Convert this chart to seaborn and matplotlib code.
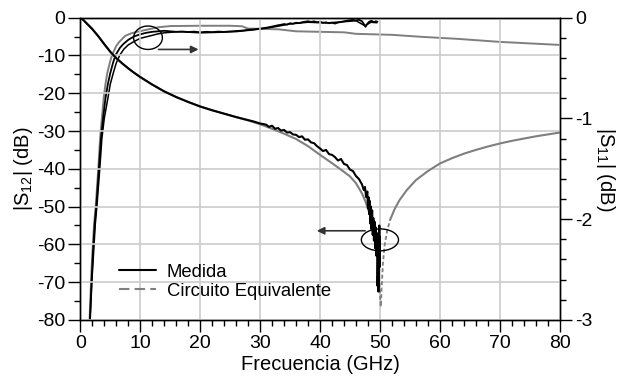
import matplotlib
matplotlib.use("Agg")
import matplotlib.pyplot as plt
import seaborn as sns
import pandas as pd
from matplotlib.lines import Line2D
from matplotlib.patches import Ellipse
from matplotlib.ticker import MultipleLocator

# ---------------- data ----------------
# |S12| measured (left axis, dB)
f_s12_meas = [0.0, 0.5, 1.0, 1.5, 2.0, 3.0, 4.0, 5.0, 6.0, 7.0, 8.0, 9.0, 10, 12, 14, 16, 18, 20,
              22, 24, 26, 28, 29, 30, 31, 31.5, 32, 32.5, 33, 33.5, 34, 34.5, 35, 35.5, 36, 36.5,
              37, 37.5, 38, 38.5, 39, 39.5, 40, 40.5, 41, 41.5, 42, 42.5, 43, 43.5, 44, 44.5, 45,
              45.5, 46, 46.5, 47, 47.3, 47.5, 47.7, 47.9, 48.0, 48.1, 48.2, 48.3, 48.4, 48.5, 48.6,
              48.7, 48.8, 48.9, 49.0, 49.1, 49.2, 49.3, 49.4, 49.5, 49.55, 49.6, 49.7, 49.75, 49.85,
              49.9, 49.95, 50.0]
s12_meas = [0.0, -0.6, -1.4, -2.2, -3.0, -4.9, -7.0, -9.0, -10.7, -12.1, -13.4, -14.6, -15.7, -17.7,
            -19.5, -21.0, -22.3, -23.5, -24.5, -25.4, -26.3, -27.1, -27.5, -28.0, -28.3, -28.9, -28.6,
            -29.4, -29.2, -29.9, -29.7, -30.4, -30.3, -30.9, -31.0, -31.6, -31.4, -32.3, -32.2, -33.0,
            -33.2, -34.0, -34.6, -35.3, -35.0, -36.1, -36.3, -36.9, -37.8, -37.4, -38.7, -39.0, -40.2,
            -40.6, -41.9, -42.7, -44.1, -45.6, -44.8, -47.5, -46.0, -50.5, -47.5, -52.0, -48.5, -54.5,
            -50.0, -56.0, -51.0, -57.5, -53.0, -59.0, -54.0, -61.0, -55.5, -63.0, -57.0, -62.0, -71.0,
            -62.0, -72.5, -60.0, -55.0, -66.0, -58.0]

# |S12| equivalent circuit (left axis, dB)
f_s12_model = [0, 0.5, 1, 1.5, 2, 3, 4, 5, 6, 7, 8, 9, 10, 12, 14, 16, 18, 20, 22, 24, 26, 28, 30,
               32, 34, 36, 38, 40, 42, 44, 45, 46, 47, 47.5, 48, 48.5, 49, 49.4, 49.7, 49.9, 50.05,
               50.15, 50.3, 50.5, 50.8, 51.2, 51.7, 52.5, 53.3, 54.5, 56, 58, 60, 62, 64, 66, 68, 70,
               72, 74, 76, 78, 80]
s12_model = [0, -0.6, -1.4, -2.2, -3.0, -4.9, -7.0, -9.0, -10.7, -12.1, -13.4, -14.6, -15.7, -17.7,
             -19.5, -21.0, -22.3, -23.5, -24.5, -25.4, -26.3, -27.2, -28.2, -29.4, -30.7, -32.1, -34.0,
             -36.3, -38.5, -40.8, -42.0, -43.8, -46.5, -48.3, -50.5, -53.0, -56.5, -60.5, -65.0, -70.0,
             -74.5, -76.5, -71.0, -65.0, -60.0, -56.5, -53.5, -50.5, -48.2, -45.6, -43.0, -40.6, -38.6,
             -37.2, -36.0, -35.0, -34.1, -33.3, -32.6, -32.0, -31.4, -30.9, -30.4]

# |S11| equivalent circuit (right axis, dB)
f_s11_model = [1.55, 1.8, 2.0, 2.3, 2.6, 3.0, 3.3, 3.6, 3.9, 4.2, 4.5, 5.0, 5.3, 6.0, 6.5, 7.5, 8.5,
               9.5, 11, 13, 15, 20, 25, 27, 28, 33, 36, 44, 46, 52, 57, 63, 70, 75, 80]
s11_model = [-3.0, -2.6, -2.35, -2.05, -1.85, -1.5, -1.2, -1.0, -0.8, -0.66, -0.55, -0.43, -0.37,
             -0.28, -0.24, -0.18, -0.155, -0.14, -0.12, -0.095, -0.083, -0.08, -0.08, -0.085, -0.108,
             -0.115, -0.135, -0.145, -0.16, -0.17, -0.19, -0.21, -0.24, -0.255, -0.27]

# |S11| measured, trace A (right axis, dB)
f_s11_meas_a = [1.6, 1.9, 2.1, 2.4, 2.7, 3.1, 3.45, 3.8, 4.2, 4.6, 5.0, 5.5, 5.9, 6.6, 7.2, 8.0, 9.0,
                10, 11, 12, 13, 14, 15, 16, 17, 18, 19, 20, 21, 22, 23, 24, 25, 26, 27, 28, 29, 30,
                31, 32, 33, 33.5, 34, 34.5, 35, 35.5, 36, 36.5, 37, 37.5, 38, 38.5, 39, 39.5, 40,
                40.5, 41, 41.5, 42, 42.5, 43, 43.5, 44, 44.5, 45, 45.5, 46, 46.5, 47, 47.4, 47.6,
                47.9, 48.2, 48.6, 49.0, 49.3, 49.6]
s11_meas_a = [-3.0, -2.6, -2.35, -2.05, -1.85, -1.5, -1.2, -1.0, -0.8, -0.66, -0.55, -0.44, -0.37,
              -0.3, -0.26, -0.22, -0.185, -0.165, -0.15, -0.14, -0.135, -0.13, -0.135, -0.14, -0.137,
              -0.142, -0.138, -0.145, -0.14, -0.143, -0.138, -0.141, -0.136, -0.132, -0.128, -0.12,
              -0.115, -0.108, -0.1, -0.088, -0.075, -0.07, -0.063, -0.068, -0.055, -0.06, -0.05,
              -0.054, -0.045, -0.04, -0.035, -0.042, -0.036, -0.045, -0.04, -0.05, -0.046, -0.055,
              -0.05, -0.058, -0.048, -0.042, -0.035, -0.03, -0.025, -0.022, -0.028, -0.02, -0.035,
              -0.07, -0.09, -0.06, -0.04, -0.03, -0.045, -0.035, -0.04]

# |S11| measured, trace B (right axis, dB)
f_s11_meas_b = [1.65, 1.95, 2.2, 2.5, 2.8, 3.25, 3.6, 4.0, 4.6, 5.0, 5.5, 6.0, 6.6, 7.3, 8.0, 9.0,
                10, 11, 12, 13, 14, 15, 16, 17, 20, 23, 26, 29, 32, 35, 38, 41, 44, 46, 47.5, 48.5,
                49.5]
s11_meas_b = [-3.0, -2.6, -2.35, -2.05, -1.85, -1.5, -1.2, -1.0, -0.8, -0.66, -0.55, -0.45, -0.37,
              -0.31, -0.27, -0.235, -0.205, -0.19, -0.175, -0.16, -0.15, -0.145, -0.14, -0.14,
              -0.15, -0.145, -0.138, -0.12, -0.095, -0.062, -0.045, -0.052, -0.04, -0.03, -0.08,
              -0.045, -0.05]

legend_labels = ["Medida", "Circuito Equivalente"]
x_label = "Frecuencia (GHz)"
y_left_label = r"$|$S$_{12}$$|$ (dB)"
y_right_label = r"$|$S$_{11}$$|$ (dB)"

# ---------------- styling ----------------
sns.set_theme(style="ticks")
plt.rcParams["font.family"] = ["Liberation Sans", "DejaVu Sans"]
plt.rcParams["mathtext.fontset"] = "custom"
plt.rcParams["mathtext.rm"] = "Liberation Sans"
plt.rcParams["mathtext.it"] = "Liberation Sans"
plt.rcParams["axes.unicode_minus"] = False
plt.rcParams["text.color"] = "black"
plt.rcParams["axes.labelcolor"] = "black"
plt.rcParams["xtick.color"] = "black"
plt.rcParams["ytick.color"] = "black"

BLACK = "#000000"
GRAY = "#7f7f7f"
GRID = "#cccccc"

fig = plt.figure(figsize=(6.21, 3.85), dpi=100)
ax = fig.add_axes([0.1293, 0.169, 0.772, 0.785])
ax2 = ax.twinx()

df_m12 = pd.DataFrame({"f": f_s12_meas, "v": s12_meas})
df_c12 = pd.DataFrame({"f": f_s12_model, "v": s12_model})
df_c11 = pd.DataFrame({"f": f_s11_model, "v": s11_model})
df_a11 = pd.DataFrame({"f": f_s11_meas_a, "v": s11_meas_a})
df_b11 = pd.DataFrame({"f": f_s11_meas_b, "v": s11_meas_b})

# S11 on the right axis
sns.lineplot(data=df_c11, x="f", y="v", ax=ax2, color=GRAY, lw=1.4, sort=False, estimator=None)
sns.lineplot(data=df_b11, x="f", y="v", ax=ax2, color=BLACK, lw=1.1, sort=False, estimator=None)
sns.lineplot(data=df_a11, x="f", y="v", ax=ax2, color=BLACK, lw=1.3, sort=False, estimator=None)

# S12 on the left axis: model (solid away from notch, dashed around it)
notch = (df_c12["f"] >= 49.0) & (df_c12["f"] <= 51.7)
outer_left = df_c12["f"] <= 49.0
outer_right = df_c12["f"] >= 51.7
sns.lineplot(data=df_c12[outer_left], x="f", y="v", ax=ax, color=GRAY, lw=1.5, sort=False, estimator=None)
sns.lineplot(data=df_c12[outer_right], x="f", y="v", ax=ax, color=GRAY, lw=1.5, sort=False, estimator=None)
sns.lineplot(data=df_c12[notch], x="f", y="v", ax=ax, color=GRAY, lw=1.3, sort=False, estimator=None,
             linestyle=(0, (2.2, 1.4)))
sns.lineplot(data=df_m12, x="f", y="v", ax=ax, color=BLACK, lw=1.5, sort=False, estimator=None)

ax.set_zorder(ax2.get_zorder() + 1)
ax.patch.set_visible(False)

ax.set_xlim(0, 80)
ax.set_ylim(-80, 0)
ax2.set_ylim(-3, 0)

ax.xaxis.set_major_locator(MultipleLocator(10))
ax.xaxis.set_minor_locator(MultipleLocator(2))
ax.yaxis.set_major_locator(MultipleLocator(10))
ax.yaxis.set_minor_locator(MultipleLocator(5))
ax2.yaxis.set_major_locator(MultipleLocator(1))
ax2.yaxis.set_minor_locator(MultipleLocator(0.2))

ax2.grid(False)
ax.grid(True, which="major", color=GRID, lw=1.2)
ax.set_axisbelow(True)

for a in (ax, ax2):
    for s in a.spines.values():
        s.set_color(BLACK)
        s.set_linewidth(1.0)
    a.tick_params(which="major", direction="out", length=8.5, width=1.0, color=BLACK,
                  labelcolor=BLACK, labelsize=14, pad=2.5)
    a.tick_params(which="minor", direction="out", length=4.5, width=1.0, color=BLACK)

ax.tick_params(axis="x", which="both", top=False)
ax.tick_params(axis="y", which="both", right=False)
ax2.tick_params(axis="y", which="both", left=False, right=True)

ax.set_xlabel(x_label, fontsize=14.5, labelpad=2, color=BLACK)
ax.set_ylabel(y_left_label, fontsize=14.5, labelpad=1, color=BLACK)
ax2.set_ylabel(y_right_label, fontsize=14.5, rotation=270, labelpad=18, color=BLACK)

# annotations: ellipses and arrows
ax.add_patch(Ellipse((11.3, -5.3), 4.8, 6.2, fill=False, ec=BLACK, lw=1.0, zorder=5))
ax.annotate("", xy=(20.2, -8.4), xytext=(12.6, -8.4),
            arrowprops=dict(arrowstyle="-|>", color="#333333", lw=1.2, mutation_scale=11))
ax.add_patch(Ellipse((50.0, -58.8), 6.2, 5.8, fill=False, ec=BLACK, lw=1.0, zorder=5))
ax.annotate("", xy=(39.0, -56.4), xytext=(48.0, -56.4),
            arrowprops=dict(arrowstyle="-|>", color="#333333", lw=1.2, mutation_scale=11))

handles = [Line2D([], [], color=BLACK, lw=1.5),
           Line2D([], [], color=GRAY, lw=1.5, linestyle=(0, (5, 2.5)))]
leg = ax.legend(handles, legend_labels, loc="upper left", bbox_to_anchor=(0.065, 0.21), frameon=False,
                fontsize=13.3, handlelength=2.0, handletextpad=0.6, labelspacing=0.1, borderaxespad=0)
for t in leg.get_texts():
    t.set_color(BLACK)

fig.savefig("out.png", dpi=100)
